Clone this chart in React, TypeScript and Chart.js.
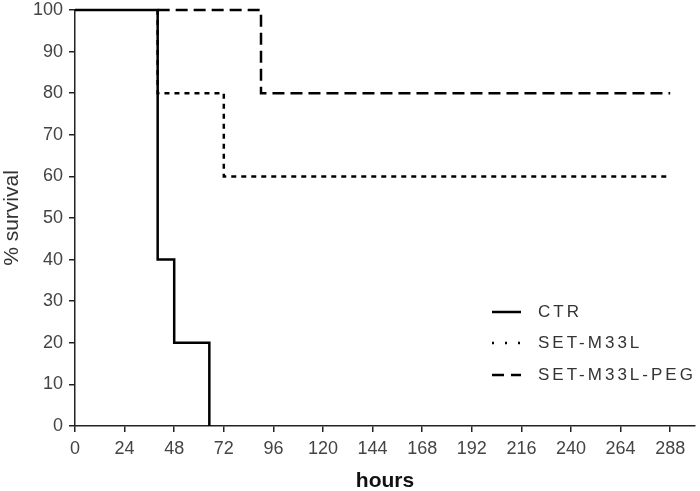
import React, { useEffect, useRef } from "react";
import { Chart, registerables } from "chart.js";
Chart.register(...registerables);

const xTicks = [0, 24, 48, 72, 96, 120, 144, 168, 192, 216, 240, 264, 288];
const yTicks = [0, 10, 20, 30, 40, 50, 60, 70, 80, 90, 100];

const ctrTimes = [0, 40, 40, 48, 48, 65, 65];
const ctrSurv = [100, 100, 40, 40, 20, 20, 0];

const m33lTimes = [40, 40, 72, 72, 288];
const m33lSurv = [100, 80, 80, 60, 60];

const pegTimes = [40, 90, 90, 288];
const pegSurv = [100, 100, 80, 80];

const seriesNames = ["CTR", "SET-M33L", "SET-M33L-PEG"];
const dashes: number[][] = [[], [5, 5], [12, 6]];
const legendDashes: number[][] = [[], [2, 11], [12, 7]];

const FONT = "'Liberation Sans', Arial, sans-serif";

const toPts = (xs: number[], ys: number[]) => xs.map((x, i) => ({ x, y: ys[i] }));

export default function App() {
  const ref = useRef<HTMLCanvasElement>(null);
  useEffect(() => {
    if (!ref.current) return;
    const legendPlugin = {
      id: "customLegend",
      afterDraw(chart: any) {
        const ctx = chart.ctx;
        ctx.save();
        const ys = [312, 343, 375];
        seriesNames.forEach((name, i) => {
          ctx.beginPath();
          ctx.strokeStyle = "#000";
          ctx.lineWidth = 2.5;
          ctx.setLineDash(legendDashes[i]);
          ctx.moveTo(492, ys[i]);
          ctx.lineTo(521, ys[i]);
          ctx.stroke();
          ctx.setLineDash([]);
          ctx.fillStyle = "#333";
          ctx.font = `17px ${FONT}`;
          (ctx as any).letterSpacing = "3px";
          ctx.textBaseline = "middle";
          ctx.textAlign = "left";
          ctx.fillText(name, 538, ys[i]);
        });
        ctx.restore();
      },
    };
    const ds = (i: number, xs: number[], ys: number[]) => ({
      label: seriesNames[i],
      data: toPts(xs, ys),
      borderColor: "#000",
      borderWidth: 2.5,
      borderDash: dashes[i],
      clip: false,
    });
    const chart = new Chart(ref.current, {
      type: "line",
      data: {
        datasets: [ds(0, ctrTimes, ctrSurv), ds(1, m33lTimes, m33lSurv), ds(2, pegTimes, pegSurv)],
      },
      options: {
        responsive: false,
        animation: false,
        events: [],
        elements: { point: { radius: 0 }, line: { tension: 0, borderCapStyle: "butt" } },
        layout: { padding: { top: 10, right: 5, left: 0, bottom: 0 } },
        plugins: { legend: { display: false }, tooltip: { enabled: false } },
        scales: {
          x: {
            type: "linear",
            min: 0,
            max: 300,
            afterBuildTicks: (scale: any) => {
              scale.ticks = xTicks.map((v) => ({ value: v }));
            },
            afterFit: (scale: any) => {
              scale.height = 65;
              scale.paddingLeft = 0;
              scale.paddingRight = 0;
            },
            grid: { drawOnChartArea: false, tickLength: 6, tickColor: "#222", lineWidth: 1.5 },
            border: { color: "#222", width: 1.5 },
            ticks: { color: "#444", font: { size: 18, family: FONT }, padding: 6, maxRotation: 0, autoSkip: false },
            title: { display: true, text: "hours", color: "#111", font: { size: 21, weight: "bold", family: FONT }, padding: { top: 0, bottom: -3 } },
          },
          y: {
            min: 0,
            max: 100,
            afterBuildTicks: (scale: any) => {
              scale.ticks = yTicks.map((v) => ({ value: v }));
            },
            afterFit: (scale: any) => {
              scale.width = 75;
              scale.paddingTop = 0;
              scale.paddingBottom = 0;
            },
            grid: { drawOnChartArea: false, tickLength: 6, tickColor: "#222", lineWidth: 1.5 },
            border: { color: "#222", width: 1.5 },
            ticks: { color: "#444", font: { size: 18, family: FONT }, padding: 6, autoSkip: false },
            title: { display: true, text: "% survival", color: "#333", font: { size: 21, family: FONT }, padding: { bottom: 0, top: 0 } },
          },
        },
      },
      plugins: [legendPlugin],
    } as any);
    return () => chart.destroy();
  }, []);
  return (
    <div style={{ position: "fixed", left: 0, top: 0, width: 700, height: 491, background: "#fff" }}>
      <canvas ref={ref} width={700} height={491} />
    </div>
  );
}
